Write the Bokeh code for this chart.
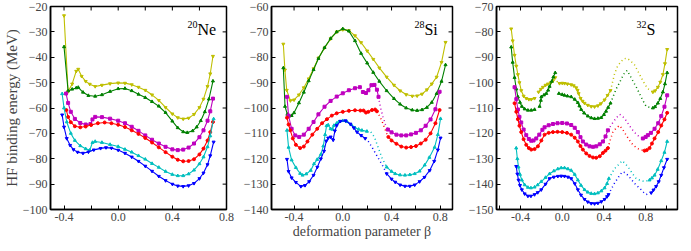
from bokeh.plotting import figure
from bokeh.layouts import row
from bokeh.models import FixedTicker, Label, Range1d
from bokeh.embed import file_html
from bokeh.resources import INLINE

nan = float("nan")
FONT = "Liberation Serif"

# ---------------- 20Ne ----------------
ne_yellow_x = [-0.40, -0.37, -0.34, -0.31, -0.295, -0.27, -0.24, -0.21, -0.17, -0.12, -0.06, 0.0, 0.05, 0.10, 0.15, 0.20, 0.25, 0.30, 0.35, 0.40, 0.44, 0.48, 0.52, 0.56, 0.60, 0.63, 0.66, 0.68, 0.70]
ne_yellow_y = [-23.6, -53.5, -50.5, -45.5, -44.7, -47.5, -49.5, -50.6, -51.5, -51.0, -50.4, -50.1, -50.2, -50.8, -51.8, -53.0, -54.8, -57.0, -59.8, -62.3, -63.8, -64.3, -64.0, -62.5, -59.8, -56.5, -51.5, -46.5, -39.6]
ne_green_x = [-0.40, -0.37, -0.34, -0.31, -0.295, -0.26, -0.22, -0.17, -0.12, -0.06, 0.0, 0.05, 0.10, 0.15, 0.20, 0.25, 0.30, 0.35, 0.40, 0.44, 0.48, 0.51, 0.55, 0.58, 0.61, 0.64, 0.67, 0.70]
ne_green_y = [-35.9, -53.3, -52.6, -52.1, -51.9, -53.8, -55.1, -55.4, -54.8, -53.5, -52.4, -52.3, -53.2, -54.6, -55.9, -57.5, -59.3, -61.8, -65.2, -67.8, -69.4, -69.7, -69.0, -67.5, -65.0, -61.5, -56.5, -49.4]
ne_magenta_x = [-0.385, -0.37, -0.35, -0.32, -0.28, -0.24, -0.205, -0.19, -0.17, -0.12, -0.06, 0.0, 0.05, 0.10, 0.15, 0.20, 0.25, 0.30, 0.35, 0.40, 0.44, 0.48, 0.52, 0.56, 0.60, 0.63, 0.66, 0.68, 0.70]
ne_magenta_y = [-54.3, -58.0, -61.5, -64.3, -65.9, -66.5, -66.3, -64.5, -63.5, -63.6, -64.2, -65.0, -66.0, -67.4, -69.0, -70.8, -72.5, -74.0, -75.3, -76.3, -76.6, -76.4, -75.6, -74.0, -71.5, -68.8, -65.0, -61.3, -56.3]
ne_red_x = [-0.383, -0.37, -0.35, -0.32, -0.28, -0.24, -0.20, -0.15, -0.10, -0.05, 0.0, 0.05, 0.10, 0.15, 0.20, 0.25, 0.30, 0.35, 0.40, 0.44, 0.48, 0.52, 0.56, 0.60, 0.63, 0.66, 0.68, 0.70]
ne_red_y = [-60.8, -63.5, -65.6, -67.2, -67.6, -67.3, -66.7, -66.0, -65.7, -66.0, -66.6, -67.5, -68.8, -70.2, -71.8, -73.6, -75.5, -77.4, -79.2, -80.4, -81.0, -80.9, -80.2, -78.3, -76.0, -72.8, -69.5, -65.5]
ne_cyan_x = [-0.414, -0.40, -0.38, -0.35, -0.32, -0.28, -0.24, -0.21, -0.19, -0.17, -0.12, -0.06, 0.0, 0.05, 0.10, 0.15, 0.20, 0.25, 0.30, 0.35, 0.40, 0.44, 0.48, 0.52, 0.56, 0.60, 0.63, 0.66, 0.68, 0.705]
ne_cyan_y = [-54.4, -60.0, -65.5, -70.0, -72.8, -74.9, -76.1, -76.6, -73.6, -73.2, -73.6, -74.4, -75.2, -76.3, -77.4, -78.8, -80.2, -81.9, -83.4, -85.0, -86.2, -86.7, -86.7, -86.0, -84.5, -82.0, -79.3, -75.3, -71.0, -64.3]
ne_blue_x = [-0.414, -0.40, -0.38, -0.355, -0.33, -0.30, -0.26, -0.22, -0.18, -0.13, -0.09, -0.05, 0.0, 0.05, 0.10, 0.15, 0.20, 0.25, 0.30, 0.35, 0.40, 0.44, 0.48, 0.52, 0.56, 0.60, 0.63, 0.66, 0.68, 0.705]
ne_blue_y = [-62.7, -67.5, -72.0, -74.7, -76.4, -77.4, -77.8, -77.3, -76.5, -75.9, -75.6, -75.8, -76.6, -77.8, -79.3, -81.0, -82.9, -84.9, -86.9, -88.6, -90.0, -90.7, -90.9, -90.6, -89.7, -87.8, -85.6, -82.3, -78.8, -73.4]

# ---------------- 28Si ----------------
si_yellow_x = [-0.488, -0.475, -0.46, -0.43, -0.40, -0.36, -0.32, -0.28, -0.24, -0.20, -0.15, -0.10, -0.05, 0.0, 0.05, 0.10, 0.15, 0.20, 0.25, 0.30, 0.36, 0.42, 0.47, 0.52, 0.57, 0.61, 0.65, 0.69, 0.73, 0.77, 0.81, 0.843]
si_yellow_y = [-74.8, -85.0, -93.0, -97.1, -96.8, -94.8, -92.0, -88.5, -84.5, -80.3, -76.3, -72.7, -70.0, -69.1, -69.5, -71.5, -74.2, -77.5, -80.8, -84.2, -87.8, -91.0, -93.2, -94.7, -95.3, -95.2, -94.5, -92.8, -90.5, -87.8, -82.0, -74.1]
si_green_x = [-0.488, -0.474, -0.455, -0.439, -0.42, -0.40, -0.36, -0.32, -0.28, -0.24, -0.20, -0.15, -0.10, -0.05, 0.0, 0.05, 0.10, 0.15, 0.20, 0.25, 0.30, 0.36, 0.42, 0.47, 0.52, 0.57, 0.61, 0.65, 0.69, 0.73, 0.77, 0.81, 0.843]
si_green_y = [-84.2, -99.4, -102.5, -103.2, -103.0, -101.9, -98.0, -93.8, -89.3, -84.9, -80.5, -76.2, -72.6, -70.0, -68.8, -69.7, -73.5, -78.5, -82.3, -86.0, -89.5, -93.2, -96.3, -98.5, -100.0, -100.8, -101.0, -100.7, -99.8, -97.8, -94.3, -89.5, -83.0]
si_magenta_x = [-0.458, -0.445, -0.42, -0.39, -0.358, -0.32, -0.28, -0.24, -0.20, -0.15, -0.10, -0.05, 0.0, 0.05, 0.10, 0.14, nan,
                0.165, 0.19, 0.21, 0.235, 0.26, 0.28, 0.293, nan,
                0.37, 0.40, 0.44, 0.48, 0.52, 0.56, 0.60, 0.64, 0.68, 0.72, 0.76, 0.794]
si_magenta_y = [-95.6, -103.0, -108.2, -110.8, -111.4, -110.5, -108.2, -105.5, -102.5, -99.5, -97.2, -95.5, -94.2, -93.0, -92.2, -91.8, nan,
                -93.7, -94.1, -93.0, -91.0, -90.9, -92.8, -95.6, nan,
                -108.5, -109.6, -110.5, -110.8, -110.8, -110.4, -109.8, -108.8, -107.0, -104.5, -100.5, -93.6]
si_magenta_dot_x = [0.293, 0.31, 0.33, 0.35, 0.37]
si_magenta_dot_y = [-95.6, -100.0, -103.5, -106.5, -108.5]
si_red_x = [-0.458, -0.445, -0.431, -0.41, -0.385, -0.35, -0.32, -0.29, -0.25, -0.21, -0.17, -0.13, -0.09, -0.05, 0.0, 0.05, 0.10, 0.144, 0.17, 0.19, 0.21, 0.24, 0.265, 0.28, nan,
            0.374, 0.40, 0.44, 0.48, 0.52, 0.56, 0.60, 0.64, 0.68, 0.72, 0.76, 0.794]
si_red_y = [-103.8, -106.5, -108.8, -112.0, -114.5, -115.8, -115.2, -113.2, -110.5, -108.2, -106.0, -104.4, -103.0, -102.1, -101.5, -101.1, -100.9, -101.0, -101.0, -101.8, -101.5, -100.8, -100.6, -101.3, nan,
            -111.4, -112.8, -114.1, -115.2, -115.6, -115.4, -115.0, -114.0, -112.5, -110.0, -106.0, -100.8]
si_red_dot_x = [0.28, 0.30, 0.32, 0.34, 0.36, 0.374]
si_red_dot_y = [-101.3, -103.0, -105.0, -107.5, -110.0, -111.4]
si_cyan_x = [-0.458, -0.445, -0.42, -0.385, -0.35, -0.33, -0.30, -0.263, -0.236, -0.21, -0.18, -0.16, -0.145, -0.133, -0.12, -0.10, -0.085, -0.073, -0.05, -0.033, 0.0, 0.035, 0.07, 0.10, 0.13, 0.157, 0.198, nan,
             0.36, 0.40, 0.43, 0.47, 0.51, 0.55, 0.59, 0.63, 0.672, 0.71, 0.753, 0.78, 0.802]
si_cyan_y = [-108.8, -115.5, -120.5, -123.5, -125.8, -126.5, -126.0, -124.6, -122.0, -120.3, -118.3, -115.0, -110.5, -107.0, -106.7, -108.2, -108.4, -106.9, -106.0, -105.4, -105.0, -105.4, -106.6, -107.8, -108.4, -108.8, -109.2, nan,
             -123.3, -125.0, -125.9, -126.4, -126.5, -126.3, -125.9, -124.9, -122.5, -119.5, -115.5, -110.5, -104.2]
si_cyan_dot_x = [0.198, 0.23, 0.26, 0.29, 0.32, 0.36]
si_cyan_dot_y = [-109.2, -109.4, -111.5, -115.5, -119.5, -123.3]
si_blue_x = [-0.458, -0.445, -0.42, -0.385, -0.344, -0.31, -0.276, -0.24, -0.209, -0.18, -0.154, -0.135, -0.12, -0.10, -0.079, -0.065, -0.05, -0.019, 0.022, 0.062, 0.09, 0.117, 0.15, 0.184, nan,
             0.36, 0.40, 0.43, 0.47, 0.51, 0.55, 0.59, 0.63, 0.67, 0.713, 0.75, 0.78, 0.802]
si_blue_y = [-120.2, -125.0, -127.5, -129.3, -130.9, -130.5, -129.0, -126.5, -123.3, -120.0, -117.0, -113.0, -111.8, -111.4, -112.6, -109.0, -106.9, -105.2, -105.0, -106.3, -107.8, -109.5, -110.8, -112.0, nan,
             -125.9, -128.0, -129.2, -130.3, -130.8, -130.8, -130.3, -129.0, -127.3, -124.6, -121.0, -116.5, -111.8]
si_blue_dot_x = [0.184, 0.21, 0.24, 0.27, 0.30, 0.33, 0.36]
si_blue_dot_y = [-112.0, -113.2, -115.5, -118.0, -120.5, -123.0, -125.9]

# ---------------- 32S ----------------
s_yellow_x = [-0.489, -0.475, -0.457, -0.44, -0.425, -0.41, -0.393, -0.37, -0.345, -0.32, -0.297, -0.265, nan,
              -0.227, -0.205, -0.185, -0.16, -0.137, -0.11, -0.089, -0.067, nan,
              -0.026, 0.0, 0.022, 0.05, 0.086, 0.11, 0.134, 0.147, 0.157, 0.176, 0.195, 0.214, 0.245, 0.278, 0.31, 0.342, 0.37, 0.406, 0.435, 0.463, nan,
              0.869, 0.89, 0.917, 0.94, 0.965, 0.985, 1.006]
s_yellow_y = [-78.8, -83.5, -89.2, -93.5, -96.8, -100.0, -103.1, -105.3, -106.2, -106.6, -106.6, -106.2, nan,
              -103.7, -102.6, -101.8, -101.0, -100.5, -100.0, -99.3, -98.0, nan,
              -100.3, -100.2, -100.3, -100.5, -100.8, -101.2, -102.0, -103.0, -104.3, -106.2, -107.3, -108.1, -108.9, -109.4, -109.5, -109.1, -108.3, -106.8, -105.0, -103.1, nan,
              -103.7, -103.2, -101.8, -99.8, -96.8, -92.5, -86.9]
s_yellow_dot_x = [-0.067, -0.05, -0.026, nan, 0.463, 0.50, 0.53, 0.565, 0.59, 0.62, 0.65, 0.693, 0.725, 0.757, 0.79, 0.821, 0.869]
s_yellow_dot_y = [-98.0, -99.5, -100.3, nan, -103.1, -96.8, -93.5, -91.7, -90.6, -90.4, -91.2, -93.0, -95.5, -98.0, -100.5, -102.4, -103.7]
s_green_x = [-0.489, -0.475, -0.457, -0.44, -0.425, -0.405, -0.387, -0.36, -0.329, -0.297, -0.265, nan,
             -0.217, -0.205, -0.2, -0.175, -0.153, -0.135, -0.121, -0.10, -0.085, -0.067, nan,
             -0.032, 0.0, 0.022, 0.05, 0.086, 0.12, 0.15, 0.165, 0.182, 0.21, 0.246, 0.278, 0.31, 0.342, 0.374, 0.40, 0.42, 0.44, 0.463, nan,
             0.869, 0.89, 0.917, 0.94, 0.965, 0.985, 1.006]
s_green_y = [-86.0, -92.0, -98.0, -102.5, -105.6, -107.8, -109.4, -110.4, -110.9, -110.9, -110.6, nan,
             -109.4, -107.0, -105.6, -104.9, -104.3, -103.0, -101.5, -99.5, -97.8, -96.1, nan,
             -104.3, -104.7, -105.0, -105.3, -105.6, -106.6, -107.9, -109.2, -110.6, -112.0, -113.2, -113.9, -114.2, -114.1, -113.8, -112.6, -111.3, -109.8, -108.1, nan,
             -110.0, -109.5, -108.1, -106.3, -103.7, -100.5, -96.1]
s_green_dot_x = [0.463, 0.49, 0.518, 0.55, 0.58, 0.60, 0.623, 0.65, 0.677, 0.71, 0.741, 0.77, 0.805, 0.869]
s_green_dot_y = [-108.1, -105.3, -102.4, -100.0, -97.4, -96.0, -95.2, -97.2, -99.3, -101.8, -104.3, -106.8, -109.4, -110.0]
s_magenta_x = [-0.457, -0.44, -0.425, -0.41, -0.393, -0.37, -0.345, -0.32, -0.297, -0.275, -0.249, -0.22, -0.19, -0.169, -0.13, -0.089, -0.045, 0.0, 0.045, 0.086, 0.12, 0.15, 0.175, 0.198, 0.23, 0.262, 0.295, 0.326, 0.36, 0.39, 0.415, 0.438, nan,
               0.773, 0.80, 0.821, 0.85, 0.885, 0.92, 0.949, 0.98, 1.006]
s_magenta_y = [-101.8, -106.5, -110.6, -113.5, -115.7, -118.5, -120.7, -122.2, -122.9, -122.8, -122.0, -120.5, -118.6, -117.6, -116.8, -116.3, -116.0, -115.9, -116.1, -116.7, -117.8, -119.5, -121.5, -123.2, -124.4, -125.1, -125.3, -125.1, -124.3, -123.2, -121.2, -118.8, nan,
               -122.0, -121.4, -120.7, -119.8, -118.2, -116.0, -113.2, -109.5, -105.0]
s_magenta_dot_x = [0.438, 0.465, 0.486, 0.52, 0.55, 0.58, 0.613, 0.645, 0.677, 0.71, 0.741, 0.773]
s_magenta_dot_y = [-118.8, -117.0, -115.7, -113.8, -112.5, -113.3, -115.0, -117.0, -118.8, -120.3, -121.4, -122.0]
s_red_x = [-0.457, -0.44, -0.425, -0.41, -0.393, -0.37, -0.345, -0.32, -0.297, -0.265, -0.233, -0.20, -0.169, -0.13, -0.089, -0.045, 0.0, 0.045, 0.086, 0.12, 0.15, 0.175, 0.198, 0.23, 0.262, 0.295, 0.326, 0.36, 0.39, 0.415, 0.438, nan,
           0.789, 0.81, 0.837, 0.86, 0.885, 0.92, 0.949, 0.98, 1.006]
s_red_y = [-108.1, -111.5, -114.4, -117.0, -119.5, -122.3, -124.5, -125.8, -126.4, -126.2, -125.1, -122.8, -120.5, -119.8, -119.5, -119.4, -119.5, -119.8, -120.5, -121.7, -123.2, -125.0, -126.4, -127.9, -128.9, -129.5, -129.6, -129.0, -127.7, -126.8, -125.8, nan,
           -126.8, -126.6, -125.8, -124.0, -122.0, -119.5, -116.9, -114.5, -111.9]
s_red_dot_x = [0.438, 0.465, 0.486, 0.52, 0.55, 0.58, 0.613, 0.645, 0.677, 0.71, 0.741, 0.789]
s_red_dot_y = [-125.8, -122.0, -119.5, -117.8, -116.9, -118.5, -120.7, -122.7, -124.5, -125.6, -126.4, -126.8]
s_cyan_x = [-0.441, -0.43, -0.419, -0.405, -0.387, -0.36, -0.329, -0.30, -0.265, -0.235, -0.201, -0.16, -0.121, -0.08, -0.042, -0.01, 0.022, 0.055, 0.086, 0.12, 0.15, 0.18, 0.214, 0.245, 0.278, 0.31, 0.342, 0.375, 0.406, 0.43, 0.447, nan,
            0.837, 0.86, 0.885, 0.915, 0.949, 0.98, 1.006]
s_cyan_y = [-125.8, -130.0, -133.3, -136.2, -138.4, -140.3, -141.3, -141.5, -141.2, -140.3, -139.0, -137.4, -135.9, -134.8, -134.0, -133.6, -133.6, -134.0, -134.6, -136.2, -138.4, -140.5, -142.2, -143.2, -143.7, -143.8, -143.5, -142.7, -141.5, -139.8, -137.8, nan,
            -138.4, -137.6, -136.5, -134.2, -130.8, -127.5, -123.2]
s_cyan_dot_x = [0.447, 0.475, 0.50, 0.54, 0.575, 0.61, 0.645, 0.675, 0.709, 0.75, 0.789, 0.837]
s_cyan_dot_y = [-137.8, -135.8, -134.0, -132.3, -130.8, -132.2, -134.0, -136.0, -137.8, -138.6, -139.0, -138.4]
s_blue_x = [-0.441, -0.43, -0.419, -0.405, -0.387, -0.36, -0.329, -0.30, -0.265, -0.235, -0.201, -0.16, -0.121, -0.08, -0.042, -0.01, 0.022, 0.055, 0.086, 0.12, 0.15, 0.18, 0.214, 0.245, 0.278, 0.31, 0.342, 0.375, 0.406, 0.43, 0.444, nan,
            0.853, 0.875, 0.9, 0.925, 0.949, 0.975, 1.006]
s_blue_y = [-133.0, -136.0, -138.4, -140.5, -142.2, -143.8, -144.7, -144.7, -144.1, -143.3, -142.2, -140.0, -137.8, -137.2, -136.9, -136.8, -136.9, -137.2, -137.8, -139.8, -142.2, -144.3, -146.0, -147.0, -147.6, -147.7, -147.5, -146.9, -146.0, -144.9, -144.1, nan,
            -143.4, -142.3, -140.9, -139.0, -136.5, -133.5, -130.2]
s_blue_dot_x = [0.444, 0.47, 0.50, 0.54, 0.575, 0.60, 0.629, 0.66, 0.693, 0.725, 0.757, 0.78, 0.805, 0.853]
s_blue_dot_y = [-144.1, -142.0, -139.7, -137.2, -135.2, -135.4, -136.5, -138.0, -139.7, -141.0, -142.2, -143.2, -144.1, -143.4]

# ---------------- axes / labels ----------------
x_ticks_ne = [-0.4, -0.2, 0.0, 0.2, 0.4, 0.6, 0.8]
x_ticks_si = [-0.4, -0.2, 0.0, 0.2, 0.4, 0.6, 0.8]
x_ticks_s = [-0.6, -0.4, -0.2, 0.0, 0.2, 0.4, 0.6, 0.8, 1.0]
x_tick_labels = {-0.6: "", -0.4: "-0.4", -0.2: "", 0.0: "0.0", 0.2: "", 0.4: "0.4", 0.6: "", 0.8: "0.8", 1.0: ""}
y_ticks_ne = [-100, -90, -80, -70, -60, -50, -40, -30, -20]
y_ticks_si = [-140, -130, -120, -110, -100, -90, -80, -70, -60]
y_ticks_s = [-150, -140, -130, -120, -110, -100, -90, -80, -70]
nuclei = [("20", "Ne"), ("28", "Si"), ("32", "S")]

COLORS = {"yellow": "#bfbf00", "green": "#008000", "magenta": "#bf00bf",
          "red": "#ff0000", "cyan": "#00bfbf", "blue": "#0000ff"}
MARKERS = {"yellow": "inverted_triangle", "green": "triangle", "magenta": "square",
           "red": "circle", "cyan": "triangle", "blue": "inverted_triangle"}

H = 243
TOP = 6
BOTTOM = 34
TICK_PX = 4


def make_fig(width, xr, yr, xt, yt, bl, br):
    p = figure(width=width, height=H, x_range=Range1d(*xr), y_range=Range1d(*yr),
               output_backend="svg", toolbar_location=None,
               min_border_left=bl, min_border_right=br, min_border_top=TOP, min_border_bottom=BOTTOM)
    p.grid.visible = False
    p.outline_line_color = "black"
    p.outline_line_width = 1.5
    xa = p.below[0]
    ya = p.left[0]
    for ax in (xa, ya):
        ax.major_tick_in = TICK_PX
        ax.major_tick_out = 0
        ax.minor_tick_line_color = None
        ax.axis_line_width = 1.5
        ax.major_tick_line_width = 1
        ax.major_label_text_font = FONT
        ax.major_label_text_font_size = "12px"
        ax.major_label_standoff = 3
        ax.axis_label_text_font = FONT
        ax.axis_label_text_font_size = "14px"
        ax.axis_label_text_font_style = "normal"
        ax.axis_label_standoff = 0
    xa.ticker = FixedTicker(ticks=xt)
    xa.major_label_overrides = {t: x_tick_labels[t] for t in xt}
    ya.ticker = FixedTicker(ticks=yt)
    ya.major_label_overrides = {t: "\u2212%d" % (-t) for t in yt}
    # mirrored inward ticks on top and right edges of the frame
    frame_w = width - bl - br
    frame_h = H - TOP - BOTTOM
    dy = (yr[1] - yr[0]) * TICK_PX / frame_h
    dx = (xr[1] - xr[0]) * TICK_PX / frame_w
    p.segment(x0=xt, y0=[yr[1]] * len(xt), x1=xt, y1=[yr[1] - dy] * len(xt),
              line_color="black", line_width=1)
    p.segment(x0=[xr[1]] * len(yt), y0=yt, x1=[xr[1] - dx] * len(yt), y1=yt,
              line_color="black", line_width=1)
    return p, xa, ya


def draw(p, name, x, y, dx=None, dy=None):
    c = COLORS[name]
    p.line(x, y, line_color=c, line_width=1.1)
    p.scatter(x, y, marker=MARKERS[name], size=3, fill_color=c, line_color=c)
    if dx is not None:
        p.line(dx, dy, line_color=c, line_width=1.5, line_dash="1 3")


def nucleus_label(p, x, y, idx):
    mass, sym = nuclei[idx]
    p.add_layout(Label(x=x, y=y, text=sym, text_align="left", text_baseline="middle",
                       text_font=FONT, text_font_size="16px", text_color="black"))
    p.add_layout(Label(x=x, y=y, y_offset=5, text=mass, text_align="right", text_baseline="middle",
                       text_font=FONT, text_font_size="10px", text_color="black"))


p1, x1, y1 = make_fig(240, (-0.5, 0.8), (-100, -20), x_ticks_ne, y_ticks_ne, 44, 14)
y1.axis_label = "HF binding energy (MeV)"
y1.axis_label_text_font_size = "15px"
draw(p1, "yellow", ne_yellow_x, ne_yellow_y)
draw(p1, "green", ne_green_x, ne_green_y)
draw(p1, "magenta", ne_magenta_x, ne_magenta_y)
draw(p1, "red", ne_red_x, ne_red_y)
draw(p1, "cyan", ne_cyan_x, ne_cyan_y)
draw(p1, "blue", ne_blue_x, ne_blue_y)
nucleus_label(p1, 0.585, -29.0, 0)

p2, x2, y2 = make_fig(225, (-0.585, 0.9), (-140, -60), x_ticks_si, y_ticks_si, 29, 13)
x2.axis_label = "deformation parameter \u03b2"
draw(p2, "yellow", si_yellow_x, si_yellow_y)
draw(p2, "green", si_green_x, si_green_y)
draw(p2, "magenta", si_magenta_x, si_magenta_y, si_magenta_dot_x, si_magenta_dot_y)
draw(p2, "red", si_red_x, si_red_y, si_red_dot_x, si_red_dot_y)
draw(p2, "cyan", si_cyan_x, si_cyan_y, si_cyan_dot_x, si_cyan_dot_y)
draw(p2, "blue", si_blue_x, si_blue_y, si_blue_dot_x, si_blue_dot_y)
nucleus_label(p2, 0.67, -69.0, 1)

p3, x3, y3 = make_fig(216, (-0.63, 1.105), (-150, -70), x_ticks_s, y_ticks_s, 29, 4)
draw(p3, "yellow", s_yellow_x, s_yellow_y, s_yellow_dot_x, s_yellow_dot_y)
draw(p3, "green", s_green_x, s_green_y, s_green_dot_x, s_green_dot_y)
draw(p3, "magenta", s_magenta_x, s_magenta_y, s_magenta_dot_x, s_magenta_dot_y)
draw(p3, "red", s_red_x, s_red_y, s_red_dot_x, s_red_dot_y)
draw(p3, "cyan", s_cyan_x, s_cyan_y, s_cyan_dot_x, s_cyan_dot_y)
draw(p3, "blue", s_blue_x, s_blue_y, s_blue_dot_x, s_blue_dot_y)
nucleus_label(p3, 0.808, -79.0, 2)

layout = row(p1, p2, p3, spacing=0)
open("out.html", "w").write(file_html(layout, INLINE))
